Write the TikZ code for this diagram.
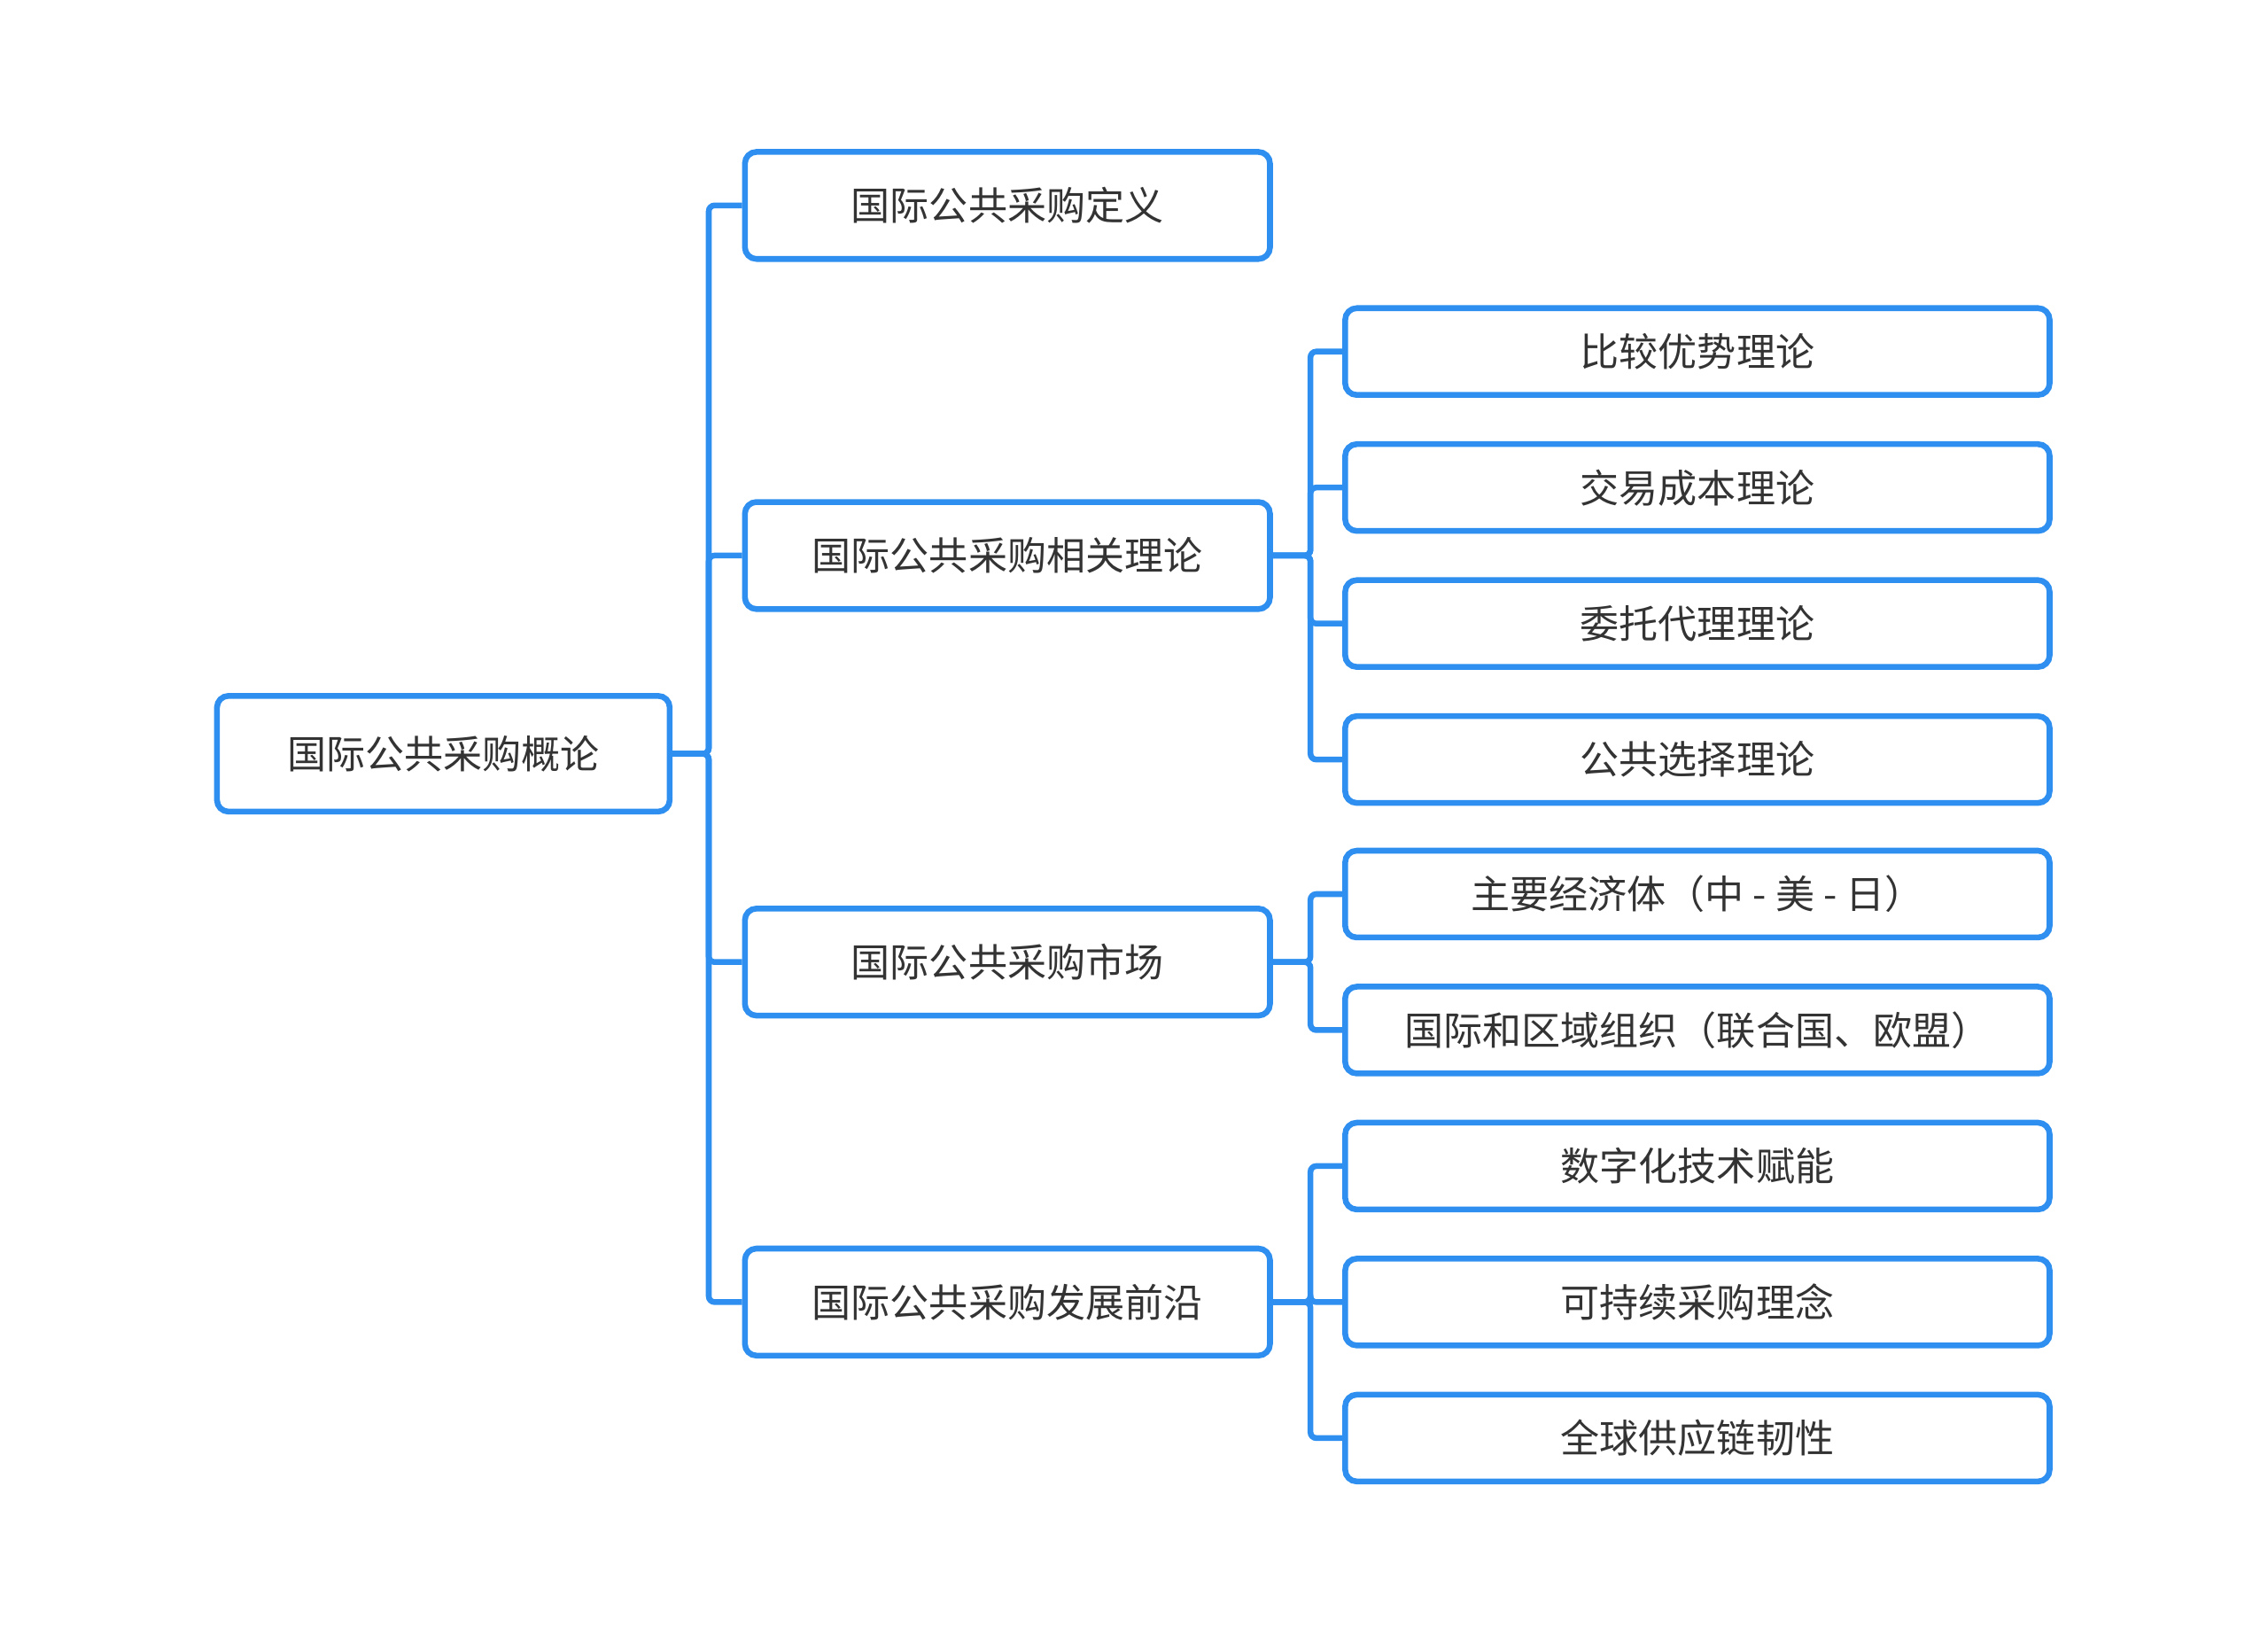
\documentclass[tikz,border=0pt]{standalone}
\usepackage{fontspec}
\newfontfamily\cjk{Noto Sans CJK SC}
\definecolor{bl}{HTML}{2E8FF0}
\definecolor{tx}{HTML}{333333}
\begin{document}
\begin{tikzpicture}[x=0.5pt,y=-0.5pt,
  box/.style={draw=bl,line width=2pt,rounded corners=4pt,fill=white,text=tx,font=\cjk\fontsize{13.5}{16}\selectfont,inner sep=0pt,anchor=center},
  lone/.style={box,minimum width=181.5pt,minimum height=37pt},
  ltwo/.style={box,minimum width=243.5pt,minimum height=30pt},
  edge/.style={draw=bl,line width=2pt,rounded corners=2pt}]
\useasboundingbox (0,0) rectangle (1568,1129);
\node[box,minimum width=156.5pt,minimum height=40pt] (root) at (306.5,521) {国际公共采购概论};
\node[lone] (a) at (696.5,142) {国际公共采购定义};
\node[lone] (b) at (696.5,384) {国际公共采购相关理论};
\node[lone] (c) at (696.5,665) {国际公共采购市场};
\node[lone] (d) at (696.5,900) {国际公共采购发展前沿};
\node[ltwo] (b1) at (1173.5,243) {比较优势理论};
\node[ltwo] (b2) at (1173.5,337) {交易成本理论};
\node[ltwo] (b3) at (1173.5,431) {委托代理理论};
\node[ltwo] (b4) at (1173.5,525) {公共选择理论};
\node[ltwo] (c1) at (1173.5,618) {主要经济体（中 - 美 - 日）};
\node[ltwo] (c2) at (1173.5,712) {国际和区域组织（联合国、欧盟）};
\node[ltwo] (d1) at (1173.5,806) {数字化技术赋能};
\node[ltwo] (d2) at (1173.5,900) {可持续采购理念};
\node[ltwo] (d3) at (1173.5,994) {全球供应链韧性};
\foreach \t in {a,b,c,d} \draw[edge] (root.east) -- ++(25,0) |- (\t.west);
\foreach \t in {b1,b2,b3,b4} \draw[edge] (b.east) -- ++(26,0) |- (\t.west);
\foreach \t in {c1,c2} \draw[edge] (c.east) -- ++(26,0) |- (\t.west);
\foreach \t in {d1,d2,d3} \draw[edge] (d.east) -- ++(26,0) |- (\t.west);
\end{tikzpicture}
\end{document}
